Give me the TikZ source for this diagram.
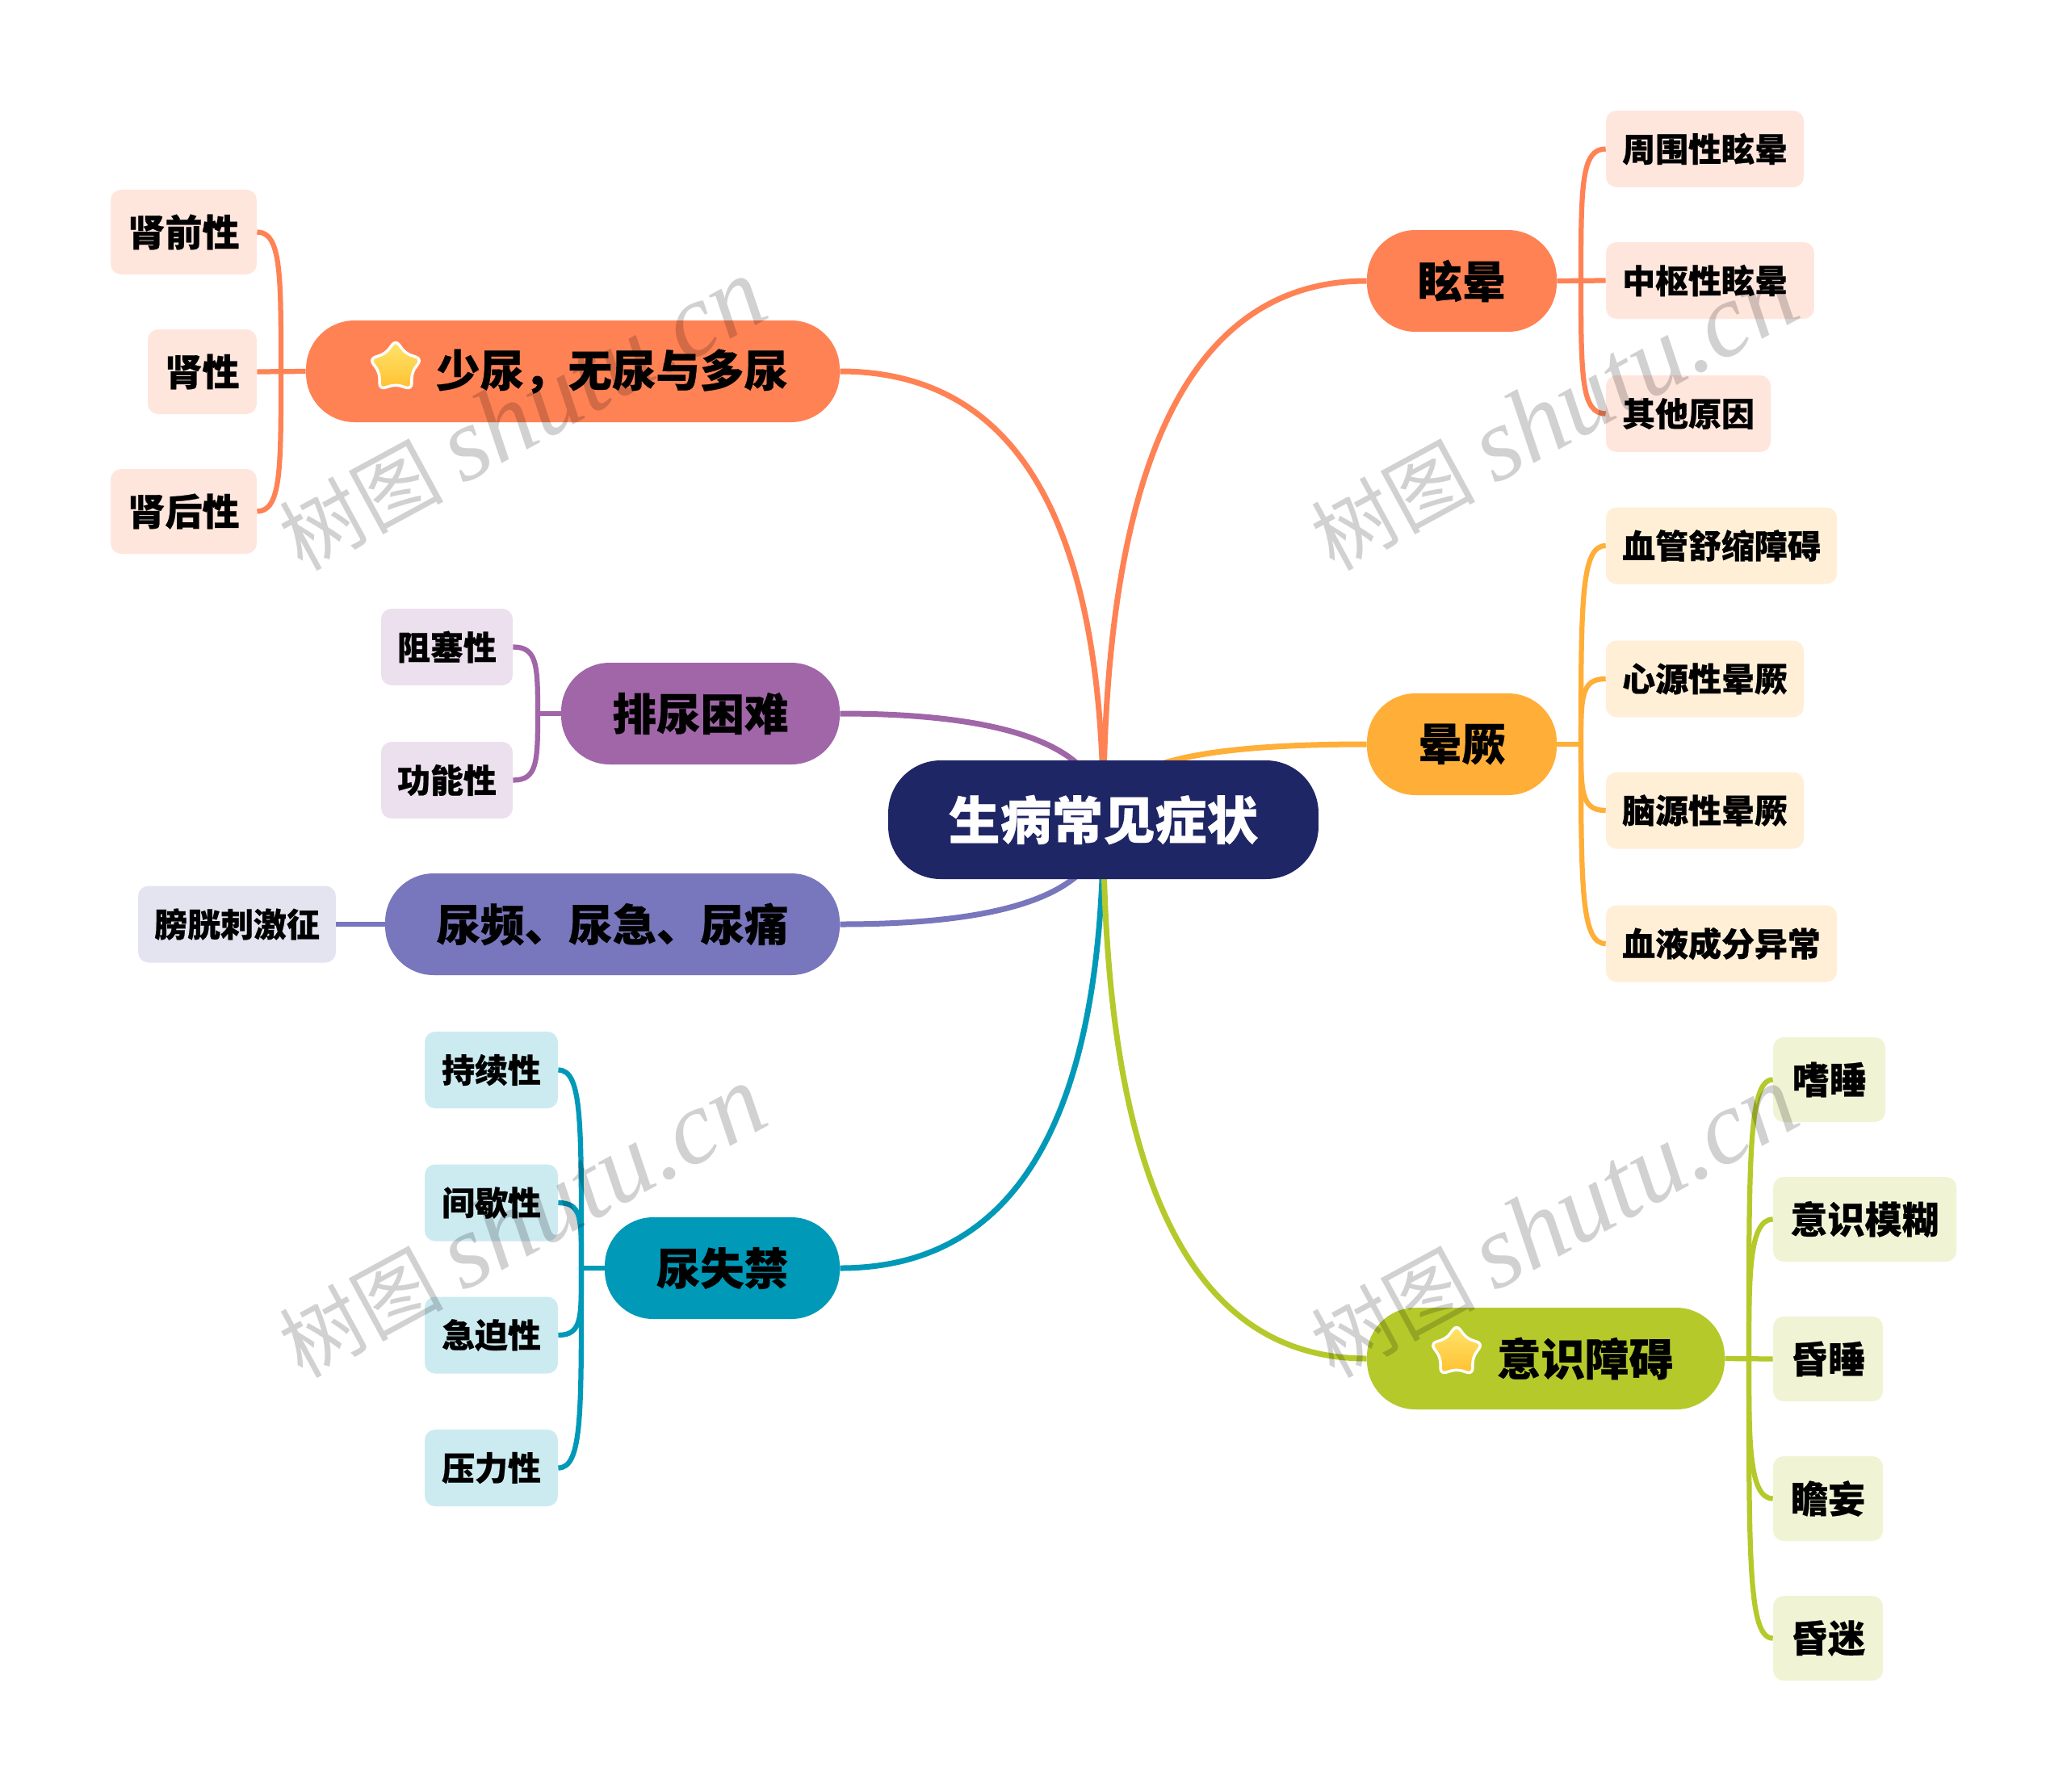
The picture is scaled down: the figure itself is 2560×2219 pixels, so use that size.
\documentclass[tikz,border=0pt]{standalone}
\usepackage{fontspec}
\setmainfont{Noto Sans CJK SC}[BoldFeatures={FakeBold=0.5}]
\newfontfamily\wmlatin{Liberation Serif}
\newfontfamily\wmcjk{Noto Sans CJK SC}[AutoFakeSlant=0.2]
\usetikzlibrary{backgrounds, shapes.geometric}

\definecolor{rootC}{HTML}{1F2666}
\definecolor{orangeC}{HTML}{FF8255}
\definecolor{orangeL}{HTML}{FFE6DD}
\definecolor{purpleC}{HTML}{A066A8}
\definecolor{purpleL}{HTML}{ECE0EE}
\definecolor{indigoC}{HTML}{7876BC}
\definecolor{indigoL}{HTML}{E4E4F1}
\definecolor{tealC}{HTML}{0099B8}
\definecolor{tealL}{HTML}{CCEBF1}
\definecolor{amberC}{HTML}{FFAE38}
\definecolor{amberL}{HTML}{FFEFD7}
\definecolor{limeC}{HTML}{B5C92B}
\definecolor{limeL}{HTML}{F0F4D5}
\definecolor{starT}{HTML}{FFE56E}
\definecolor{starB}{HTML}{FFC030}

\tikzset{
  rootbox/.style={fill=rootC, text=white, rounded corners=1.3cm, minimum width=10.66cm,
    minimum height=2.94cm, inner sep=0pt, font=\fontsize{36.4}{40}\selectfont\bfseries},
  branchbox/.style={rounded corners=1.2cm, minimum height=2.52cm, inner sep=0pt,
    font=\fontsize{31}{35}\selectfont\bfseries},
  leafbig/.style={rounded corners=0.26cm, minimum height=2.1cm, inner sep=0pt,
    font=\fontsize{26.2}{30}\selectfont\bfseries},
  leafsmall/.style={rounded corners=0.26cm, minimum height=1.9cm, inner sep=0pt,
    font=\fontsize{23.3}{27}\selectfont\bfseries},
  link/.style={line width=0.14cm},
  twig/.style={line width=0.125cm},
  staricon/.style={star, star points=5, star point ratio=1.6, minimum size=1.35cm, inner sep=0pt,
    draw=white, line width=0.07cm, rounded corners=0.14cm,
    top color=starT, bottom color=starB},
  wmark/.style={rotate=28.5, text=black, text opacity=0.18, inner sep=0pt}
}

\begin{document}
\begin{tikzpicture}[x=0.02cm, y=-0.02cm]
  \useasboundingbox (0,0) rectangle (2560,2219);

  % centre
  \node[rootbox] (root) at (1366.5,1015.5) {生病常见症状};

  % main branches
  \node[branchbox, fill=orangeC, minimum width=13.22cm] (oliguria) at (709.5,460) {\hspace*{1.78em}少尿，无尿与多尿};
  \node[branchbox, fill=purpleC, minimum width=6.9cm] (dysuria) at (867.5,884) {排尿困难};
  \node[branchbox, fill=indigoC, minimum width=11.26cm] (frequency) at (758.5,1145) {尿频、尿急、尿痛};
  \node[branchbox, fill=tealC, minimum width=5.82cm] (incontinence) at (894.5,1571) {尿失禁};
  \node[branchbox, fill=orangeC, minimum width=4.7cm] (vertigo) at (1810.5,348) {眩晕};
  \node[branchbox, fill=amberC, minimum width=4.7cm] (syncope) at (1810.5,922) {晕厥};
  \node[branchbox, fill=limeC, minimum width=8.86cm] (conscious) at (1914.5,1683) {\hspace*{1.78em}意识障碍};

  % stars
  \node[staricon] (starA) at (490,455) {};
  \node[staricon] (starB) at (1804,1675) {};

  % leaves
  \foreach \id/\x/\y/\w/\txt in {kidA/227.5/287.5/181/肾前性, kidB/250.5/460.5/135/肾性, kidC/227.5/633.5/181/肾后性}
    \node[leafbig, fill=orangeL, minimum width=\w*0.02cm] (\id) at (\x,\y) {\txt};
  \foreach \id/\x/\y/\w/\txt in {dysA/553.5/801.5/163/阻塞性, dysB/553.5/966.5/163/功能性}
    \node[leafsmall, fill=purpleL, minimum width=\w*0.02cm] (\id) at (\x,\y) {\txt};
  \node[leafsmall, fill=indigoL, minimum width=4.9cm] (bladder) at (293.5,1145) {膀胱刺激征};
  \foreach \id/\x/\y/\w/\txt in {incA/608.5/1325.5/165/持续性, incB/608.5/1490/165/间歇性, incC/608.5/1654/165/急迫性, incD/608.5/1818.5/165/压力性}
    \node[leafsmall, fill=tealL, minimum width=\w*0.02cm] (\id) at (\x,\y) {\txt};
  \foreach \id/\x/\y/\w/\txt in {verA/2111.5/184.5/245/周围性眩晕, verC/2091/512.5/204/其他原因}
    \node[leafsmall, fill=orangeL, minimum width=\w*0.02cm] (\id) at (\x,\y) {\txt};
  \node[leafsmall, fill=orangeL, minimum width=5.16cm] (verB) at (2118,347.5) {中枢性眩晕\hspace*{0.26cm}};
  \foreach \id/\x/\y/\w/\txt in {synA/2132/676/286/血管舒缩障碍, synB/2111.5/841/245/心源性晕厥, synC/2111.5/1004/245/脑源性晕厥, synD/2132/1169/286/血液成分异常}
    \node[leafsmall, fill=amberL, minimum width=\w*0.02cm] (\id) at (\x,\y) {\txt};
  \foreach \id/\x/\y/\w/\txt in {conA/2265.5/1337.5/139/嗜睡, conB/2309.5/1510.5/227/意识模糊, conC/2264/1683.5/136/昏睡, conD/2264/1856.5/136/瞻妄, conE/2264/2029.5/136/昏迷}
    \node[leafbig, fill=limeL, minimum width=\w*0.02cm] (\id) at (\x,\y) {\txt};

  % trunk points
  \coordinate (trunkKid) at (348,460);
  \coordinate (trunkDys) at (666,884);
  \coordinate (trunkInc) at (720,1571);
  \coordinate (trunkVer) at (1958,348);
  \coordinate (trunkSyn) at (1958,922);
  \coordinate (trunkCon) at (2166,1683);

  \begin{pgfonlayer}{background}
    \fill[white] (0,0) rectangle (2560,2219);
    % root to branches
    \draw[link, orangeC] (oliguria.east) .. controls +(200,0) and +(0,-400) .. (root.center);
    \draw[link, purpleC] (dysuria.east) .. controls +(200,0) and +(0,-94) .. (root.center);
    \draw[link, indigoC] (frequency.east) .. controls +(200,0) and +(0,94) .. (root.center);
    \draw[link, tealC] (incontinence.east) .. controls +(200,0) and +(0,400) .. (root.center);
    \draw[link, orangeC] (vertigo.west) .. controls +(-200,0) and +(0,-480) .. (root.center);
    \draw[link, amberC] (syncope.west) .. controls +(-220,0) and +(0,-67) .. (root.center);
    \draw[link, limeC] (conscious.west) .. controls +(-200,0) and +(0,480) .. (root.center);

    % branches to leaves
    \draw[twig, orangeC] (oliguria.west) -- (kidB.east);
    \draw[twig, orangeC] (kidA.east) .. controls +(30,0) and +(0,-120) .. (trunkKid);
    \draw[twig, orangeC] (kidC.east) .. controls +(30,0) and +(0,120) .. (trunkKid);
    \draw[twig, purpleC] (dysuria.west) -- (trunkDys);
    \draw[twig, purpleC] (dysA.east) .. controls +(30,0) and +(0,-60) .. (trunkDys);
    \draw[twig, purpleC] (dysB.east) .. controls +(30,0) and +(0,60) .. (trunkDys);
    \draw[twig, indigoC] (frequency.west) -- (bladder.east);
    \draw[twig, tealC] (incontinence.west) -- (trunkInc);
    \draw[twig, tealC] (incA.east) .. controls +(30,0) and +(0,-180) .. (trunkInc);
    \draw[twig, tealC] (incB.east) .. controls +(30,0) and +(0,-60) .. (trunkInc);
    \draw[twig, tealC] (incC.east) .. controls +(30,0) and +(0,60) .. (trunkInc);
    \draw[twig, tealC] (incD.east) .. controls +(30,0) and +(0,180) .. (trunkInc);
    \draw[twig, orangeC] (vertigo.east) -- (verB.west);
    \draw[twig, orangeC] (verA.west) .. controls +(-30,0) and +(0,-120) .. (trunkVer);
    \draw[twig, orangeC] (verC.west) .. controls +(-30,0) and +(0,120) .. (trunkVer);
    \draw[twig, amberC] (syncope.east) -- (trunkSyn);
    \draw[twig, amberC] (synA.west) .. controls +(-30,0) and +(0,-180) .. (trunkSyn);
    \draw[twig, amberC] (synB.west) .. controls +(-30,0) and +(0,-60) .. (trunkSyn);
    \draw[twig, amberC] (synC.west) .. controls +(-30,0) and +(0,60) .. (trunkSyn);
    \draw[twig, amberC] (synD.west) .. controls +(-30,0) and +(0,180) .. (trunkSyn);
    \draw[twig, limeC] (conscious.east) -- (conC.west);
    \draw[twig, limeC] (conA.west) .. controls +(-30,0) and +(0,-250) .. (trunkCon);
    \draw[twig, limeC] (conB.west) .. controls +(-30,0) and +(0,-100) .. (trunkCon);
    \draw[twig, limeC] (conD.west) .. controls +(-30,0) and +(0,100) .. (trunkCon);
    \draw[twig, limeC] (conE.west) .. controls +(-30,0) and +(0,250) .. (trunkCon);
  \end{pgfonlayer}

  % watermarks
  \foreach \id/\x/\y in {markA/646/514, markB/1924/514, markC/646/1514, markD/1924/1514}
    \node[wmark] (\id) at (\x,\y) {\fontsize{58}{60}\selectfont\wmcjk 树图 \fontsize{74}{78}\selectfont\wmlatin\itshape shutu.cn};
\end{tikzpicture}
\end{document}
